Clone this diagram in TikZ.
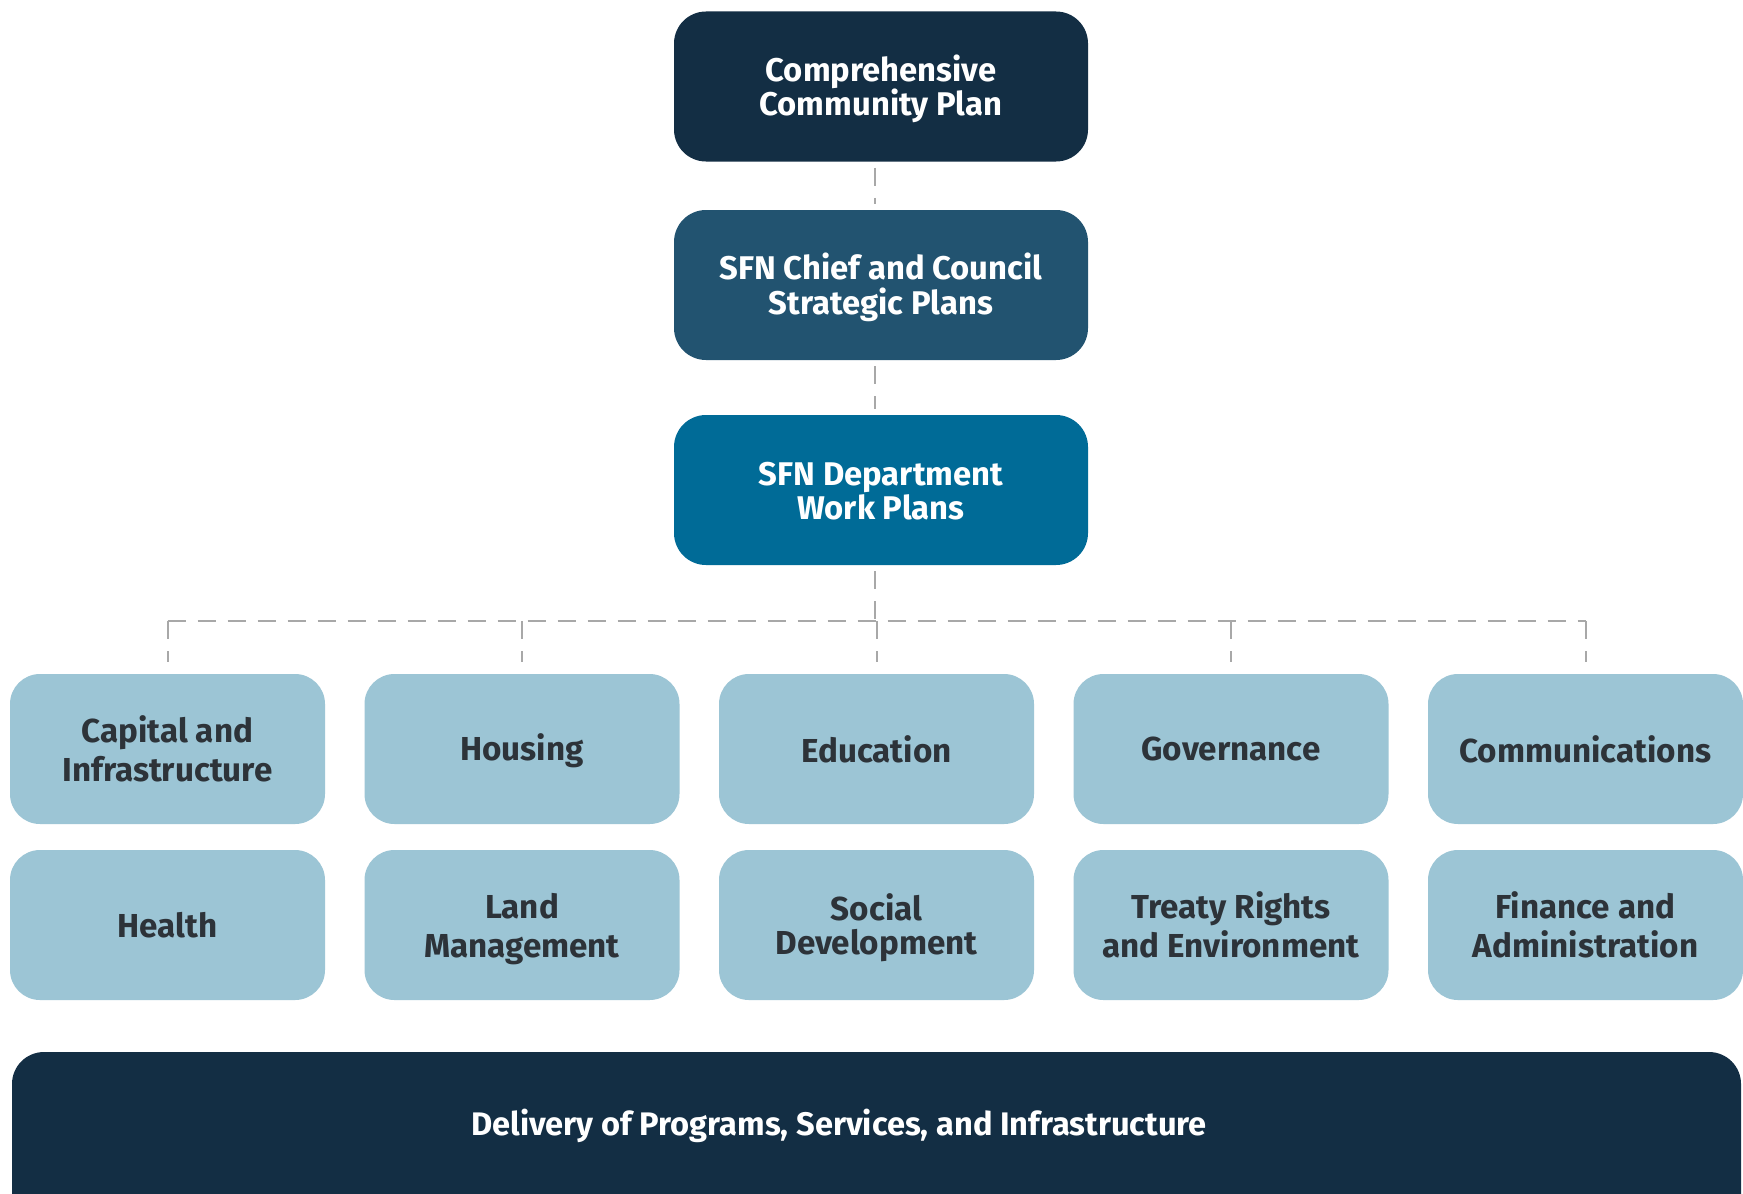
\documentclass[tikz,border=0pt]{standalone}
\usepackage{fontspec}
\setmainfont{Fira Sans}
\definecolor{navy}{HTML}{132E44}
\definecolor{midblue}{HTML}{225370}
\definecolor{deptblue}{HTML}{006B97}
\definecolor{lightbox}{HTML}{9CC5D5}
\definecolor{boxtext}{HTML}{2D3339}
\definecolor{connector}{HTML}{A8A8A8}
\newcommand{\topstrut}[1]{\rule{0pt}{#1}}
\begin{document}
\begin{tikzpicture}[x=0.5pt,y=-0.5pt,
  topbox/.style={rectangle, rounded corners=16pt, minimum width=207pt, minimum height=75pt,
    text=white, font=\bfseries\fontsize{16.4}{17.3}\selectfont, align=center, inner sep=0pt},
  deptbox/.style={rectangle, rounded corners=15pt, fill=lightbox, minimum width=157.5pt,
    minimum height=75pt, text=boxtext, font=\bfseries\fontsize{16.6}{19.5}\selectfont,
    align=center, inner sep=0pt},
  barbox/.style={rectangle, rounded corners=16pt, fill=navy, minimum width=864.5pt,
    minimum height=90pt, inner sep=0pt},
  bartext/.style={text=white, font=\bfseries\fontsize{16.3}{18}\selectfont, inner sep=0pt},
  conn/.style={draw=connector, line width=1pt, dash pattern=on 9pt off 6pt}]
\useasboundingbox (0,0) rectangle (1743,1193);
\clip (0,0) rectangle (1743,1193);
\fill[white] (0,0) rectangle (1743,1193);

\node[topbox, fill=navy] (ccp) at (881,86.5) {\topstrut{15.5pt}Comprehensive\\Community Plan};
\node[topbox, fill=midblue] (council) at (881,285) {\topstrut{15.5pt}SFN Chief and Council\\Strategic Plans};
\node[topbox, fill=deptblue] (work) at (881,490) {\topstrut{12.6pt}SFN Department\\Work Plans};

\node[deptbox] (capital) at (167.5,749) {Capital and\\Infrastructure};
\node[deptbox] (housing) at (522,749) {\topstrut{14.8pt}Housing};
\node[deptbox] (education) at (876.5,749) {Education};
\node[deptbox] (governance) at (1231,749) {Governance};
\node[deptbox] (comm) at (1585.5,749) {Communications};

\node[deptbox] (health) at (167.5,925) {Health};
\node[deptbox] (land) at (522,925) {\topstrut{16.2pt}Land\\Management};
\node[deptbox] (social) at (876.5,925) {\topstrut{16pt}Social\\[-2.8pt]Development};
\node[deptbox] (treaty) at (1231,925) {Treaty Rights\\and Environment};
\node[deptbox] (finance) at (1585.5,925) {Finance and\\Administration};

\node[barbox] (delivery) at (876.5,1142) {};
\node[bartext] (deliverylabel) at (839,1126) {Delivery of Programs, Services, and Infrastructure};

\coordinate (bus) at (875,621);
\draw[conn, shorten <=3pt, shorten >=3pt] (ccp.south -| bus) -- (council.north -| bus);
\draw[conn, shorten <=3pt, shorten >=3pt] (council.south -| bus) -- (work.north -| bus);
\draw[conn, shorten <=3pt] (work.south -| bus) -- (bus);
\draw[conn] (capital.north |- bus) -- (comm.north |- bus);
\foreach \n in {capital,housing,education,governance,comm}{
  \draw[conn, shorten >=6pt] (\n.north |- bus) -- (\n.north);
}
\end{tikzpicture}
\end{document}
